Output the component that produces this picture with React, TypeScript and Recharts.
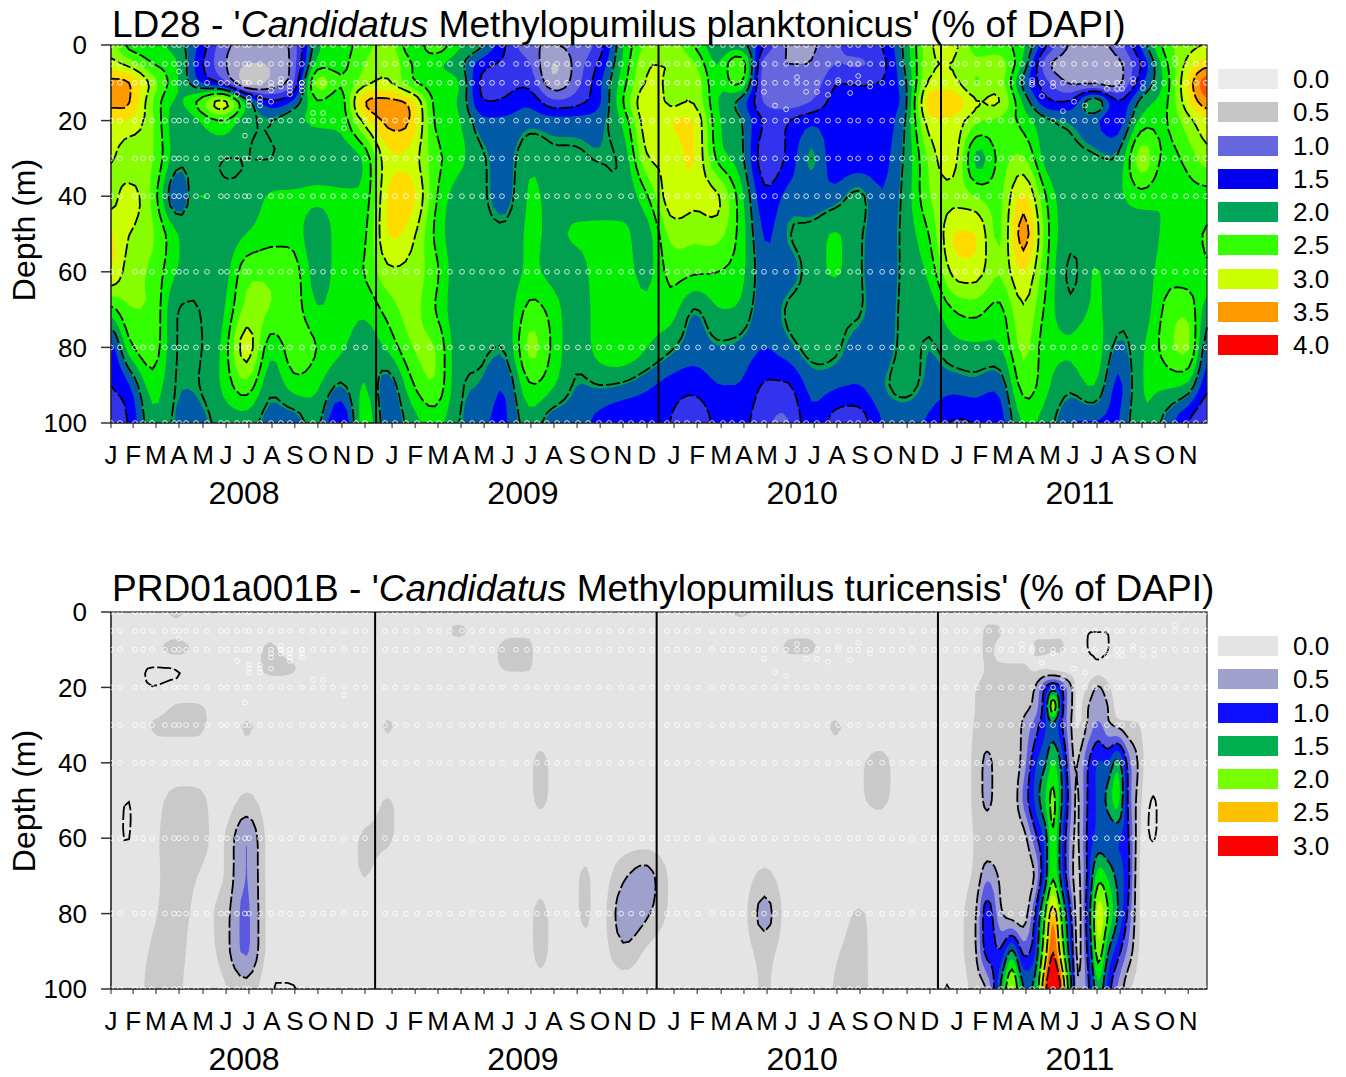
import { ScatterChart, Scatter, XAxis, YAxis, ReferenceLine, usePlotArea } from "recharts";

const FONT = "'Liberation Sans', Arial, sans-serif";

// axis ticks
const monthLetters = ["J","F","M","A","M","J","J","A","S","O","N","D","J","F","M","A","M","J","J","A","S","O","N","D","J","F","M","A","M","J","J","A","S","O","N","D","J","F","M","A","M","J","J","A","S","O","N"];
const monthTicks = [0.74,1.68,2.65,3.63,4.65,5.63,6.6,7.58,8.55,9.53,10.55,11.53, 12.68,13.66,14.63,15.61,16.59,17.61,18.58,19.56,20.54,21.52,22.49,23.51, 24.66,25.64,26.66,27.63,28.61,29.63,30.61,31.58,32.56,33.54,34.56,35.53, 36.68,37.66,38.63,39.61,40.63,41.61,42.63,43.61,44.54,45.52,46.5];
const yearTicks = [6.39, 18.24, 30.1, 41.9];
const yearLabels = ["2008", "2009", "2010", "2011"];
const depthTicks = [0, 20, 40, 60, 80, 100];
const monthDomain = [0.74, 47.3];
const ldYearLines = [12, 24, 36];
const prdYearLines = [11.96, 23.92, 35.87];

// sampling dates (months since Jan 2008) and depths
const sampleMonths = [0.74,1.12,1.76,2.1,2.48,3.03,3.42,3.63,3.93,4.35,4.82,5.41,5.67,6.09,6.43,6.6,7.07,7.54,7.96,8.34,8.85,9.32,9.75,10.17,10.64,11.15,11.53, 12.38,12.81,13.27,13.74,14.29,14.68,15.14,15.65,16.08,16.5,16.93,17.35,17.95,18.41,18.84,19.26,19.69,20.11,20.58,21.01,21.47,21.9,22.41,22.83,23.3,23.72, 24.36,24.79,25.21,25.68,26.27,26.74,27.12,27.55,28.06,28.48,28.95,29.42,29.88,30.27,30.73,31.2,31.63,32.14,32.48,32.99,33.5,33.92,34.34,34.77,35.28,35.7, 36.17,36.68,37.02,37.53,38.04,38.55,38.97,39.44,39.87,40.29,40.76,41.18,41.65,42.12,42.54,43.05,43.48,43.69,44.16,44.58,45.05,45.47,45.94,46.41,46.83,47.25];
const sampleDepths = [0, 5, 10, 20, 30, 40, 60, 80, 100];
const extraMonths = [3.63,6.09,6.6,6.6,6.6,7.07,7.07,7.07,7.54,7.54,7.54,7.96,7.96,7.96,8.34,8.34,8.34,8.34,8.85,8.85,8.85,9.32,9.75,10.64,6.43, 29.88,32.48,31.63,32.99,28.48,30.27,30.73,31.2,32.14,28.95,29.42, 39.44,39.87,39.87,40.76,40.29,41.65,42.12,41.18,45.94,43.05,43.48,43.69,44.16,44.58,45.05];
const extraDepths = [7,13,14,15,16,14,15,16,11,12,15,9,10,11,10,11,12,13,10,11,12,18,18,22,24, 8.5,8.2,9.3,11,12.4,12.4,12.4,13.2,12.7,16,17, 8.5,9.3,10.5,11,13.5,15,16,17.5,3.5,11.6,11.6,11.6,9,11.4,11.4];

// LD28 grid
const ldMonths = [0.74,1.5,2.5,3.5,4.5,5.5,6.5,7.5,8.5,9.5,10.5,11.5, 12.5,13.5,14.5,15.5,16.5,17.5,18.5,19.5,20.5,21.5,22.5,23.5, 24.5,25.5,26.5,27.5,28.5,29.5,30.5,31.5,32.5,33.5,34.5,35.5, 36.5,37.5,38.5,39.5,40.5,41.5,42.5,43.5,44.5,45.5,46.5,47.3];
const ldDepths = [0, 5, 10, 15, 20, 30, 40, 50, 60, 70, 80, 90, 100];
const ld0 = [2.9,2.4,2.3,2.15,1.7,1.1,0.9,0.85,1.1,2.2,2.4,2.6, 2.9,2.3,2.7,2.3,2.05,1.5,1.05,1.0,1.1,1.35,2.25,2.8, 2.9,2.5,2.05,2.1,1.5,0.95,0.95,1.2,1.4,1.5,2.1,2.95, 3.1,2.6,2.6,2.3,1.5,0.95,0.95,1.1,1.8,2.6,2.9,3.0];
const ld5 = [3.1,2.9,2.5,2.3,1.6,1.05,0.75,0.75,1.1,2.4,2.4,2.75, 3.0,2.5,2.3,2.1,1.6,1.45,1.3,0.7,1.1,1.55,2.3,3.0, 3.0,2.8,2.2,2.8,1.05,1.0,1.0,1.25,1.2,1.4,2.05,2.95, 3.0,2.8,2.9,2.2,1.05,0.9,0.9,0.9,1.5,2.4,3.1,3.4];
const ld10 = [3.6,3.55,2.9,2.3,1.75,1.4,0.55,0.8,1.2,2.9,2.5,2.9, 3.05,2.55,2.35,2.3,1.4,1.4,1.45,0.8,1.15,1.7,2.4,3.05, 2.95,3.0,2.25,2.6,1.0,1.05,1.05,1.5,1.5,1.5,1.95,3.1, 3.1,2.7,2.9,1.9,1.3,0.95,0.9,0.85,1.7,2.3,3.3,3.95];
const ld15 = [3.6,3.55,2.75,2.2,2.6,3.2,2.2,1.55,1.8,2.5,2.3,3.55, 3.6,3.4,2.4,2.25,1.5,1.55,1.7,1.3,1.4,1.7,2.5,3.25, 2.9,3.0,2.25,1.9,1.2,1.1,1.25,1.6,1.5,1.6,1.9,3.5, 3.5,3.0,3.05,2.2,1.55,1.5,2.3,1.5,2.1,2.4,3.2,3.7];
const ld20 = [3.25,3.25,2.8,2.05,2.25,2.5,2.05,2.0,2.2,2.3,2.3,3.1, 3.6,3.5,2.45,2.3,1.8,1.8,1.9,1.85,1.85,1.9,2.3,3.2, 3.25,3.3,2.3,2.05,1.45,1.5,1.7,1.6,1.55,1.6,2.0,3.2, 3.2,2.8,2.7,2.4,2.05,1.95,1.8,1.55,2.35,2.45,2.9,3.2];
const ld30 = [3.05,2.75,2.8,2.1,2.05,1.98,2.0,1.98,2.05,2.1,2.1,2.25, 3.2,3.15,2.6,2.35,2.05,1.85,2.2,2.05,2.05,1.98,2.05,3.0, 3.05,3.3,2.4,2.1,1.3,1.55,2.05,1.55,1.55,1.65,2.05,2.8, 3.2,2.1,2.6,2.8,2.1,2.05,2.05,2.0,2.95,2.4,2.6,2.9];
const ld40 = [2.85,3.15,2.7,1.72,2.3,2.05,2.05,2.3,2.3,2.3,2.3,2.3, 3.3,3.4,2.55,2.1,2.05,1.85,2.3,2.15,2.1,2.15,2.05,2.45, 3.2,3.1,3.1,2.35,1.55,1.85,1.8,1.85,2.1,1.75,2.1,2.75, 2.9,2.75,2.65,3.35,2.45,2.05,2.1,2.2,2.4,2.25,2.4,2.4];
const ld50 = [3.3,3.0,2.8,2.3,2.05,2.05,2.25,2.4,2.4,2.05,2.4,2.4, 3.3,3.1,2.45,2.05,2.05,2.05,2.3,2.2,2.3,2.3,2.35,2.1, 2.85,2.8,2.85,2.4,1.7,2.0,2.1,2.3,2.05,1.8,2.1,2.5, 3.3,3.3,2.65,3.7,2.55,2.05,2.1,2.05,2.05,2.3,2.35,2.55];
const ld60 = [3.3,2.85,2.7,2.25,2.05,2.1,2.7,2.7,2.65,2.1,2.4,2.5, 2.95,2.9,2.6,2.05,2.05,2.05,2.3,2.15,2.1,2.4,2.4,2.15, 2.6,2.55,2.5,2.35,1.8,1.85,2.1,2.3,2.05,1.75,2.1,2.3, 3.1,3.15,2.75,3.3,2.5,1.92,2.3,2.05,2.05,2.4,2.35,2.45];
const ld70 = [2.4,2.75,2.75,1.97,2.0,2.2,2.85,2.75,2.65,2.25,2.4,2.3, 2.6,2.85,2.5,2.05,2.05,2.05,2.6,2.4,2.05,2.4,2.45,2.3, 2.4,1.95,2.25,2.2,1.8,2.05,2.1,2.05,2.05,1.8,2.1,2.1, 2.5,2.6,2.4,3.0,2.4,2.05,2.3,2.1,2.05,2.55,2.7,2.1];
const ld80 = [1.6,2.4,2.7,1.97,1.97,2.3,3.2,2.3,2.7,2.5,2.3,2.1, 2.3,2.75,2.8,2.05,2.05,2.0,2.85,2.45,2.05,2.4,2.5,2.27, 2.05,1.85,1.95,1.9,1.75,1.9,2.1,2.05,1.85,1.8,2.1,1.95, 2.15,2.2,2.2,2.85,2.3,2.3,2.45,1.9,2.2,2.6,2.85,1.8];
const ld90 = [1.5,1.7,2.4,1.97,2.0,2.3,2.7,2.05,2.4,2.3,1.95,2.3, 1.8,2.45,2.75,2.05,1.95,1.75,2.5,2.3,1.95,2.0,1.95,1.8, 1.65,1.6,1.75,1.75,1.45,1.45,1.85,1.8,1.75,1.95,2.1,1.9, 1.85,1.9,1.8,2.65,2.3,2.05,2.3,1.65,2.25,2.3,2.2,1.55];
const ld100 = [1.4,1.5,2.2,1.93,1.88,2.1,2.1,1.85,1.8,2.1,1.4,2.45, 1.8,2.1,2.35,2.0,1.8,1.7,2.15,1.8,1.85,1.65,1.5,1.55, 1.5,1.2,1.6,1.6,1.3,1.2,1.7,1.35,1.3,1.75,1.8,1.7, 1.45,1.5,1.6,2.3,2.1,1.75,1.7,1.7,2.25,1.9,1.45,1.2];
const ldGrid = [ld0, ld5, ld10, ld15, ld20, ld30, ld40, ld50, ld60, ld70, ld80, ld90, ld100];
const ldLevels = [0.5,0.75,1,1.25,1.5,1.75,1.96,2.25,2.5,2.75,3,3.25,3.5,3.75,4];
const ldColors = ["#c6c6c6","#a0a0cc","#6666dd","#3333ee","#0000ff","#005aa5","#00a050","#00ee00","#33ff00","#88ff00","#ccff00","#ffdc00","#ff9900","#ff5500","#ff0000"];
const ldLines = [1, 1.5, 2, 2.5, 3, 3.5];
const ldLegendLabels = ["0.0","0.5","1.0","1.5","2.0","2.5","3.0","3.5","4.0"];
const ldLegendColors = ["#ebebeb","#c6c6c6","#6666dd","#0000ee","#00a45a","#33ff00","#ccff00","#ff9900","#ff0000"];

// PRD01a001B grid
const prdMonths = [0.74,1.5,2.5,3.5,4.5,5.5,6.5,7.5,8.5,9.5,10.5,11.5, 12.5,13.5,14.5,15.5,16.5,17.5,18.5,18.98,19.5,20.5,20.96,21.5,22.5,23.5, 24.5,25.5,26.5,27.5,28.5,29.5,30.5,31.5,32.5,33.5,34.5,35.5, 36.51,37.49,37.96,38.51,39.02,39.49,39.99,40.42,40.76,41.14,41.57,41.82,42.25,42.67,43.1,43.52,43.95,44.37,44.8,45.65,47.3];
const prdDepths = [0, 5, 10, 15, 20, 25, 30, 40, 50, 60, 70, 80, 90, 100];
const prd0 = [.1,.1,.1,.3,.1,.1,.1,.1,.1,.1,.1,.1, .1,.1,.1,.1,.1,.1,.1,.1,.1,.1,.1,.1,.1,.1, .1,.1,.1,.32,.1,.1,.1,.1,.1,.1,.1,.1, .1,.1,.1,.1,.1,.1,.1,.1,.1,.1,.1,.1,.1,.1,.1,.1,.1,.1,.1,.1,.1];
const prd5 = [.1,.1,.1,.2,.1,.1,.1,.2,.1,.1,.1,.1, .1,.1,.1,.32,.1,.2,.2,.1,.1,.1,.1,.1,.1,.1, .1,.1,.1,.1,.1,.2,.2,.1,.1,.1,.1,.1, .1,.1,.32,.28,.1,.1,.2,.2,.2,.2,.1,.1,.05,.05,.05,.1,.1,.1,.1,.1,.1];
const prd10 = [.1,.1,.2,.32,.2,.1,.1,.3,.1,.1,.1,.1, .1,.1,.1,.1,.1,.32,.32,.1,.1,.1,.1,.1,.1,.1, .1,.1,.1,.1,.1,.29,.29,.1,.1,.1,.1,.1, .1,.12,.32,.15,.1,.1,.29,.29,.29,.29,.1,.1,.045,.045,.045,.1,.1,.1,.1,.1,.1];
const prd15 = [.1,.1,.03,.04,.1,.1,.1,.34,.28,.1,.1,.1, .1,.1,.1,.1,.1,.28,.28,.1,.1,.1,.1,.1,.1,.1, .1,.1,.1,.1,.1,.1,.1,.1,.1,.1,.1,.1, .1,.15,.28,.3,.3,.3,.2,.2,.15,.12,.1,.1,.1,.1,.1,.1,.1,.1,.1,.1,.1];
const prd20 = [.1,.1,.05,.1,.1,.1,.1,.1,.1,.1,.1,.1, .1,.1,.1,.1,.1,.1,.1,.1,.1,.1,.1,.1,.1,.1, .1,.1,.1,.1,.1,.1,.1,.1,.1,.1,.1,.1, .1,.25,.3,.3,.3,.3,.5,1.0,1.3,1.0,.5,.15,.28,.55,.3,.1,.1,.1,.1,.1,.1];
const prd25 = [.1,.1,.1,.28,.28,.1,.1,.1,.1,.1,.1,.1, .1,.1,.1,.1,.1,.1,.1,.1,.1,.1,.1,.1,.1,.1, .1,.1,.1,.1,.1,.1,.1,.1,.1,.1,.1,.1, .1,.26,.3,.3,.3,.4,.6,1.2,2.3,1.1,.5,.15,.5,.7,.5,.12,.2,.1,.1,.1,.1];
const prd30 = [.1,.1,.28,.32,.32,.1,.3,.1,.1,.1,.1,.1, .3,.1,.1,.1,.1,.1,.1,.1,.1,.1,.1,.1,.1,.1, .1,.1,.1,.1,.1,.1,.1,.3,.1,.1,.1,.1, .1,.27,.3,.3,.3,.55,.85,1.2,1.4,1.0,.45,.2,.55,.8,.55,.4,.3,.27,.1,.1,.1];
const prd40 = [.1,.1,.1,.1,.1,.1,.15,.1,.1,.1,.1,.1, .1,.1,.1,.1,.1,.1,.2,.32,.2,.1,.1,.1,.1,.1, .1,.1,.1,.1,.1,.1,.1,.1,.22,.32,.1,.1, .1,.3,.6,.3,.3,.6,1.2,1.45,1.8,1.4,.55,.5,1.0,1.3,1.25,1.65,.9,.5,.1,.1,.1];
const prd50 = [.1,.045,.15,.35,.33,.1,.32,.1,.1,.1,.1,.1, .28,.1,.1,.1,.1,.1,.2,.3,.2,.1,.1,.1,.1,.1, .1,.1,.1,.1,.1,.1,.1,.1,.22,.3,.1,.1, .1,.3,.6,.3,.3,.8,1.3,1.75,2.1,1.5,.7,.45,1.05,1.3,1.6,1.9,.95,.4,.04,.1,.1];
const prd60 = [.1,.04,.2,.35,.33,.2,.8,.1,.1,.1,.1,.3, .3,.1,.1,.1,.1,.1,.1,.1,.1,.1,.1,.1,.1,.1, .1,.1,.1,.1,.1,.1,.1,.1,.1,.1,.1,.1, .1,.27,.3,.28,.3,.35,.9,1.3,2.0,1.25,.6,.45,1.1,1.3,1.25,1.25,1.05,.35,.04,.1,.1];
const prd70 = [.1,.1,.2,.33,.24,.2,.8,.1,.1,.1,.1,.27, .1,.1,.1,.1,.1,.1,.1,.15,.1,.22,.3,.1,.45,.65, .2,.1,.1,.1,.32,.1,.1,.1,.1,.1,.1,.1, .1,.3,.7,.45,.3,.28,.5,1.3,1.95,1.3,.55,.4,1.1,1.9,1.7,1.4,1.1,.3,.1,.1,.1];
const prd80 = [.1,.1,.22,.33,.2,.34,.85,.1,.1,.1,.1,.1, .1,.1,.1,.1,.1,.1,.2,.32,.2,.22,.32,.1,.7,.55, .2,.1,.1,.1,.65,.1,.1,.1,.29,.1,.1,.1, .1,.5,1.2,.55,.3,.28,1.0,2.0,2.7,1.9,.9,.35,1.25,2.4,2.0,1.5,.95,.3,.1,.1,.1];
const prd90 = [.1,.1,.28,.33,.15,.34,.85,.1,.1,.1,.1,.1, .1,.1,.1,.1,.1,.1,.2,.32,.2,.1,.15,.1,.45,.2, .1,.1,.1,.1,.35,.1,.1,.22,.33,.1,.1,.1, .1,.5,1.15,1.0,1.6,.9,1.2,2.3,3.0,2.2,1.1,.4,1.1,2.2,1.5,1.1,.7,.27,.1,.1,.1];
const prd100 = [.1,.1,.33,.3,.12,.2,.4,.04,.04,.1,.1,.1, .1,.1,.1,.1,.1,.1,.1,.18,.1,.1,.1,.1,.1,.1, .1,.1,.1,.1,.28,.1,.1,.27,.34,.1,.1,.1, .04,.35,.5,1.5,2.4,1.5,1.6,2.9,3.5,2.9,1.4,.5,.9,1.7,1.1,.7,.3,.15,.1,.1,.1];
const prdGrid = [prd0, prd5, prd10, prd15, prd20, prd25, prd30, prd40, prd50, prd60, prd70, prd80, prd90, prd100];
const prdLevels = [0.25,0.5,0.75,1,1.25,1.5,1.75,2,2.25,2.5,2.75,3];
const prdColors = ["#c9c9c9","#a0a0cc","#5a5ae0","#0f0fff","#0050b0","#00b050","#00ee00","#77ff00","#ccff00","#ffc000","#ff7000","#ff0000"];
const prdLines = [0.05, 0.5, 1, 1.5, 2, 2.5, 3];
const prdLegendLabels = ["0.0","0.5","1.0","1.5","2.0","2.5","3.0"];
const prdLegendColors = ["#e4e4e4","#a0a0cc","#0f0fff","#00b050","#77ff00","#ffc000","#ff0000"];

const samplePoints = [
    ...sampleDepths.flatMap((depth) => sampleMonths.map((month) => ({ month, depth }))),
    ...extraMonths.map((month, i) => ({ month, depth: extraDepths[i] })),
];
const yearPoints = yearTicks.map((month) => ({ month, depth: 0 }));

type Pt = [number, number];
const FINE = 4;

function refineLine(p: number[]) {
    const out: number[] = [];
    for (let i = 0; i < p.length - 1; i++) {
        const a = p[Math.max(i - 1, 0)];
        const b = p[i];
        const c = p[i + 1];
        const d = p[Math.min(i + 2, p.length - 1)];
        for (let k = 0; k < FINE; k++) {
            const t = k / FINE;
            const v = 0.5 * (2 * b + (c - a) * t + (2 * a - 5 * b + 4 * c - d) * t * t + (3 * b - a - 3 * c + d) * t * t * t);
            out.push(Math.min(Math.max(b, c), Math.max(Math.min(b, c), v)));
        }
    }
    out.push(p[p.length - 1]);
    return out;
}

function refinePositions(p: number[]) {
    const out: number[] = [];
    for (let i = 0; i < p.length - 1; i++) {
        for (let k = 0; k < FINE; k++) out.push(p[i] + ((p[i + 1] - p[i]) * k) / FINE);
    }
    out.push(p[p.length - 1]);
    return out;
}

function soften(g: number[][]) {
    const h = g.length;
    const w = g[0].length;
    const at = (j: number, i: number) => g[Math.min(h - 1, Math.max(0, j))][Math.min(w - 1, Math.max(0, i))];
    return g.map((row, j) =>
        row.map((_, i) => {
            let s = 0;
            for (let a = -1; a <= 1; a++) for (let b = -1; b <= 1; b++) s += (a === 0 ? 2 : 1) * (b === 0 ? 2 : 1) * at(j + a, i + b);
            return s / 16;
        })
    );
}

// smooth drawing surface for the contours, the values themselves stay as read
function refineGrid(grid: number[][]) {
    const rows = grid.map(refineLine);
    const columns = rows[0].map((_, i) => refineLine(rows.map((r) => r[i])));
    const fine = columns[0].map((_, j) => columns.map((c) => c[j]));
    return soften(fine);
}

// filled region z >= level, one polygon per grid cell, all in a single path so no seams show
function bandPath(xs: number[], ys: number[], grid: number[][], level: number) {
    let d = "";
    for (let j = 0; j < ys.length - 1; j++) {
        for (let i = 0; i < xs.length - 1; i++) {
            const cx = [i, i + 1, i + 1, i];
            const cy = [j, j, j + 1, j + 1];
            const poly: Pt[] = [];
            for (let k = 0; k < 4; k++) {
                const n = (k + 1) % 4;
                const za = grid[cy[k]][cx[k]];
                const zb = grid[cy[n]][cx[n]];
                if (za >= level) poly.push([xs[cx[k]], ys[cy[k]]]);
                if (za >= level !== zb >= level) {
                    const t = (level - za) / (zb - za);
                    poly.push([xs[cx[k]] + t * (xs[cx[n]] - xs[cx[k]]), ys[cy[k]] + t * (ys[cy[n]] - ys[cy[k]])]);
                }
            }
            if (poly.length > 2) d += "M" + poly.map((p) => p[0].toFixed(1) + " " + p[1].toFixed(1)).join("L") + "Z";
        }
    }
    return d;
}

// contour line chained through the cells so dashes run on along it
function linePath(xs: number[], ys: number[], grid: number[][], level: number) {
    const segs: { a: string; b: string; pa: Pt; pb: Pt; used: boolean }[] = [];
    for (let j = 0; j < ys.length - 1; j++) {
        for (let i = 0; i < xs.length - 1; i++) {
            const cx = [i, i + 1, i + 1, i];
            const cy = [j, j, j + 1, j + 1];
            const hits: { key: string; p: Pt }[] = [];
            for (let k = 0; k < 4; k++) {
                const n = (k + 1) % 4;
                const za = grid[cy[k]][cx[k]];
                const zb = grid[cy[n]][cx[n]];
                if (za >= level !== zb >= level) {
                    const t = (level - za) / (zb - za);
                    const key = k % 2 === 0 ? `h${i}_${k === 0 ? j : j + 1}` : `v${k === 1 ? i + 1 : i}_${j}`;
                    hits.push({ key, p: [xs[cx[k]] + t * (xs[cx[n]] - xs[cx[k]]), ys[cy[k]] + t * (ys[cy[n]] - ys[cy[k]])] });
                }
            }
            for (let h = 0; h + 1 < hits.length; h += 2) {
                segs.push({ a: hits[h].key, b: hits[h + 1].key, pa: hits[h].p, pb: hits[h + 1].p, used: false });
            }
        }
    }
    const byKey = new Map<string, number[]>();
    segs.forEach((s, idx) => {
        byKey.set(s.a, [...(byKey.get(s.a) || []), idx]);
        byKey.set(s.b, [...(byKey.get(s.b) || []), idx]);
    });
    let d = "";
    const walk = (start: string, pts: Pt[]) => {
        let key = start;
        for (;;) {
            const next = (byKey.get(key) || []).find((idx) => !segs[idx].used);
            if (next === undefined) return;
            const s = segs[next];
            s.used = true;
            if (s.a === key) {
                pts.push(s.pb);
                key = s.b;
            } else {
                pts.push(s.pa);
                key = s.a;
            }
        }
    };
    segs.forEach((s) => {
        if (s.used) return;
        s.used = true;
        const forward: Pt[] = [s.pa, s.pb];
        walk(s.b, forward);
        const backward: Pt[] = [];
        walk(s.a, backward);
        const pts = [...backward.reverse(), ...forward];
        d += "M" + pts.map((p) => p[0].toFixed(1) + " " + p[1].toFixed(1)).join("L");
    });
    return d;
}

function ContourLayer({ months, depths, grid, levels, colors, lines, base }: any) {
    const plot = usePlotArea();
    if (!plot) return null;
    const xs = refinePositions(months.map((m: number) => plot.x + ((m - monthDomain[0]) / (monthDomain[1] - monthDomain[0])) * plot.width));
    const ys = refinePositions(depths.map((d: number) => plot.y + (d / 100) * plot.height));
    const fine = refineGrid(grid);
    return (
        <g>
            <rect x={plot.x} y={plot.y} width={plot.width} height={plot.height} fill={base} />
            {levels.map((level: number, i: number) => (
                <path key={level} d={bandPath(xs, ys, fine, level)} fill={colors[i]} />
            ))}
            {lines.map((level: number) => (
                <path key={level} d={linePath(xs, ys, fine, level)} fill="none" stroke="#000" strokeWidth={1.8} strokeDasharray="14 3" />
            ))}
            <rect x={plot.x} y={plot.y} width={plot.width} height={plot.height} fill="none" stroke="#222" strokeWidth={1.2} />
        </g>
    );
}

const sampleDot = (props: any) => (
    <circle cx={props.cx} cy={props.cy} r={2.4} fill="none" stroke="#fff" strokeOpacity={0.85} strokeWidth={0.9} />
);
const noDot = () => null;

function Panel({ top, height, yearLines, contour }: any) {
    return (
        <div style={{ position: "absolute", left: 0, top }}>
            <ScatterChart width={1346} height={height} margin={{ top: 45, right: 139, bottom: 10, left: 0 }}>
                <XAxis
                    xAxisId="months"
                    type="number"
                    dataKey="month"
                    domain={monthDomain}
                    allowDataOverflow
                    ticks={monthTicks}
                    interval={0}
                    height={40}
                    tickSize={5}
                    tickMargin={18}
                    tickFormatter={(_v: number, i: number) => monthLetters[i]}
                    tick={{ fontSize: 26, fill: "#000", fontFamily: FONT }}
                    axisLine={{ stroke: "#222" }}
                    tickLine={{ stroke: "#222" }}
                />
                <XAxis
                    xAxisId="years"
                    type="number"
                    dataKey="month"
                    domain={monthDomain}
                    allowDataOverflow
                    ticks={yearTicks}
                    interval={0}
                    height={40}
                    tickSize={0}
                    tickMargin={18}
                    tickFormatter={(_v: number, i: number) => yearLabels[i]}
                    tick={{ fontSize: 32, fill: "#000", fontFamily: FONT }}
                    axisLine={false}
                    tickLine={false}
                />
                <YAxis
                    type="number"
                    dataKey="depth"
                    domain={[0, 100]}
                    reversed
                    allowDataOverflow
                    ticks={depthTicks}
                    interval={0}
                    width={111}
                    tickSize={10}
                    tickMargin={14}
                    tick={{ fontSize: 26, fill: "#000", fontFamily: FONT }}
                    axisLine={{ stroke: "#222" }}
                    tickLine={{ stroke: "#333", strokeWidth: 1.5 }}
                />
                <ContourLayer {...contour} />
                {yearLines.map((x: number) => (
                    <ReferenceLine key={x} xAxisId="months" x={x} stroke="#000" strokeWidth={2} />
                ))}
                <Scatter data={yearPoints} xAxisId="years" shape={noDot} isAnimationActive={false} />
                <Scatter data={samplePoints} xAxisId="months" shape={sampleDot} isAnimationActive={false} />
            </ScatterChart>
        </div>
    );
}

function Title({ top, name, species }: { top: number; name: string; species: string }) {
    return (
        <div style={{ position: "absolute", left: 112, top, fontSize: 37.1, lineHeight: "40px", whiteSpace: "nowrap", color: "#000" }}>
            {name} - '<i>Candidatus</i> {species}' (% of DAPI)
        </div>
    );
}

function DepthLabel({ center }: { center: number }) {
    return (
        <div style={{ position: "absolute", left: 24, top: center, fontSize: 32, lineHeight: "36px", whiteSpace: "nowrap", color: "#000", transform: "translate(-50%, -50%) rotate(-90deg)" }}>
            Depth (m)
        </div>
    );
}

function ColorKey({ top, labels, colors }: { top: number; labels: string[]; colors: string[] }) {
    return (
        <>
            {labels.map((label, i) => (
                <div key={i}>
                    <div style={{ position: "absolute", left: 1218, top: top + i * 33.25, width: 60, height: 20, background: colors[i] }} />
                    <div style={{ position: "absolute", left: 1293, top: top + i * 33.25 - 5, fontSize: 26, lineHeight: "30px", color: "#000" }}>{label}</div>
                </div>
            ))}
        </>
    );
}

export default function App() {
    return (
        <div style={{ position: "absolute", left: 0, top: 0, width: 1346, height: 1077, overflow: "hidden", background: "#fff", fontFamily: FONT }}>
            <Panel
                top={0}
                height={513}
                yearLines={ldYearLines}
                contour={{ months: ldMonths, depths: ldDepths, grid: ldGrid, levels: ldLevels, colors: ldColors, lines: ldLines, base: "#ebebeb" }}
            />
            <Panel
                top={567}
                height={512}
                yearLines={prdYearLines}
                contour={{ months: prdMonths, depths: prdDepths, grid: prdGrid, levels: prdLevels, colors: prdColors, lines: prdLines, base: "#e4e4e4" }}
            />
            <Title top={4} name="LD28" species="Methylopumilus planktonicus" />
            <Title top={568} name="PRD01a001B" species="Methylopumilus turicensis" />
            <DepthLabel center={230} />
            <DepthLabel center={801} />
            <ColorKey top={69} labels={ldLegendLabels} colors={ldLegendColors} />
            <ColorKey top={636} labels={prdLegendLabels} colors={prdLegendColors} />
        </div>
    );
}
